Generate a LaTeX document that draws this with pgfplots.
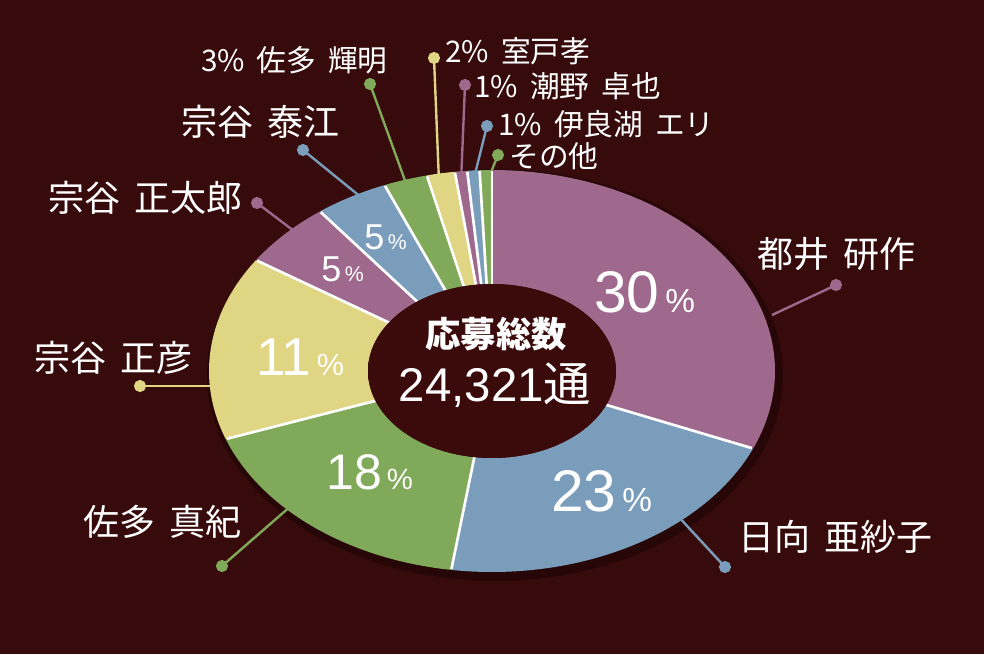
\documentclass[border=0pt]{standalone}
\usepackage{fontspec}
\setmainfont{Liberation Sans}
\newfontfamily\cjk{Noto Sans CJK JP}
\usepackage{pgfplots}
\usepackage{pgfplotstable}
\pgfplotsset{compat=1.18}

\definecolor{bg}{HTML}{370A0B}
\definecolor{cPur}{HTML}{9E698D}
\definecolor{cBlu}{HTML}{7B9DBC}
\definecolor{cGrn}{HTML}{80A95A}
\definecolor{cYel}{HTML}{DFD582}
\definecolor{holec}{HTML}{3B0A0A}
\definecolor{holeedge}{HTML}{200404}
\pgfdeclareradialshading{holeshade}{\pgfpointorigin}{color(0bp)=(holec); color(34bp)=(holec); color(50bp)=(holeedge)}

% share = size of the slice as drawn (% of the ring), pct = printed label
\pgfplotstableread{
share pct col
31.3 30 cPur
21.0 23 cBlu
17.2 18 cGrn
14.8 11 cYel
5.3  5  cPur
4.2  5  cBlu
2.5  3  cGrn
1.6  2  cYel
0.7  1  cPur
0.7  1  cBlu
0.7  0  cGrn
}\slices

% ring geometry in pixel units
\def\cx{492}\def\cy{371}\def\rx{283}\def\ry{201}
\def\cum{0}
\pgfplotsforeachungrouped \i in {0,...,10}{%
  \pgfplotstablegetelem{\i}{share}\of\slices
  \pgfmathsetmacro\tmpS{90-3.6*\cum}%
  \pgfmathsetmacro\cum{\cum+\pgfplotsretval}%
  \pgfmathsetmacro\tmpE{90-3.6*\cum}%
  \expandafter\let\csname s\i\endcsname\tmpS
  \expandafter\let\csname e\i\endcsname\tmpE
  \pgfplotstablegetelem{\i}{col}\of\slices
  \colorlet{slice\i}{\pgfplotsretval}%
}

\newcommand\pc[3]{\fontsize{#1}{#1}\selectfont#3\hspace{0.1em}\fontsize{#2}{#2}\selectfont\%}
\newcommand\gap{\hspace{0.4em}}
\tikzset{
  lbl/.style={inner sep=0, text=white, font=\fontsize{27pt}{28pt}\cjk},
  slbl/.style={inner sep=0, text=white, font=\fontsize{22.3pt}{23pt}\cjk},
  num/.style={inner sep=0, text=white, anchor=base west},
  lead/.style={line width=1.8pt, mark=*, mark indices={1}, mark size=3.6pt}
}

\begin{document}
\begin{tikzpicture}
\fill[bg] (0,0) rectangle (738pt,490.5pt);
\begin{axis}[
    at={(0,0)}, anchor=south west,
    scale only axis, width=738pt, height=490.5pt,
    xmin=0, xmax=984, ymin=0, ymax=654,
    y dir=reverse,
    hide axis, clip=false,
]
% soft shadow under ring
\addplot[draw=none, mark=none, fill=black, fill opacity=0.3, domain=0:360, samples=120]
  ({\cx+3+(\rx+5)*cos(x)},{\cy+4-(\ry+5)*sin(x)}) -- cycle;

% leader lines, dot first
\addplot[cPur, lead] coordinates {(836,285) (772,315)};
\addplot[cBlu, lead] coordinates {(725,567) (676,514)};
\addplot[cGrn, lead] coordinates {(222,566) (292,505)};
\addplot[cYel, lead] coordinates {(140,386) (216,386)};
\addplot[cPur, lead] coordinates {(257,203) (298,234)};
\addplot[cBlu, lead] coordinates {(303,150) (362,198)};
\addplot[cGrn, lead] coordinates {(370,84) (407,186)};
\addplot[cYel, lead] coordinates {(434,58) (439,182)};
\addplot[cPur, lead] coordinates {(465,85) (461,182)};
\addplot[cBlu, lead] coordinates {(487,126) (473,182)};
\addplot[cGrn, lead] coordinates {(498,155) (487,182)};

% slices
\pgfplotsinvokeforeach{0,...,10}{
  \addplot[draw=none, mark=none, fill=slice#1, domain=\csname e#1\endcsname:\csname s#1\endcsname, samples=90]
    ({\cx+\rx*cos(x)},{\cy-\ry*sin(x)}) -- (axis cs:\cx,\cy) -- cycle;
}
% white separators
\pgfplotsinvokeforeach{0,...,10}{
  \addplot[white, mark=none, line width=2pt, domain=0:0.995, samples=2]
    ({\cx+x*\rx*cos(\csname s#1\endcsname)},{\cy-x*\ry*sin(\csname s#1\endcsname)});
}
% hole
\addplot[draw=none, mark=none, fill=holec, shade, shading=holeshade, domain=0:360, samples=120]
  ({\cx+124*cos(x)},{\cy-87*sin(x)}) -- cycle;

% percentages in the ring
\node[num] at (axis cs:594,312) {\pc{44pt}{25pt}{30}};
\node[num] at (axis cs:551,511) {\pc{44pt}{25pt}{23}};
\node[num] at (axis cs:326,489) {\pc{37.5pt}{22pt}{18}};
\node[num] at (axis cs:256,375) {\pc{40pt}{23pt}{11}};
\node[num] at (axis cs:321,281) {\pc{27pt}{16pt}{5}};
\node[num] at (axis cs:364,249) {\pc{27pt}{16pt}{5}};

% centre
\node[text=white, inner sep=0, font=\fontsize{26.5pt}{27pt}\cjk\bfseries] at (axis cs:496,334) {応募総数};
\node[anchor=base, text=white, inner sep=0] at (axis cs:495,401) {\fontsize{35.5pt}{36pt}\selectfont 24,321{\cjk 通}};

% names
\node[lbl, anchor=west] at (axis cs:757,254) {都井\gap 研作};
\node[lbl, anchor=west] at (axis cs:738,537) {日向\gap 亜紗子};
\node[lbl, anchor=east] at (axis cs:242,522) {佐多\gap 真紀};
\node[lbl, anchor=east] at (axis cs:193,358) {宗谷\gap 正彦};
\node[lbl, anchor=east] at (axis cs:243,198) {宗谷\gap 正太郎};
\node[lbl, anchor=east] at (axis cs:340,122) {宗谷\gap 泰江};
\node[slbl, anchor=east] at (axis cs:388,60) {3\%\gap 佐多\gap 輝明};
\node[slbl, anchor=west] at (axis cs:445,51) {2\%\gap 室戸孝};
\node[slbl, anchor=west] at (axis cs:474,86) {1\%\gap 潮野\gap 卓也};
\node[slbl, anchor=west] at (axis cs:498,124) {1\%\gap 伊良湖\gap エリ};
\node[slbl, anchor=west] at (axis cs:509,156) {その他};
\end{axis}
\end{tikzpicture}
\end{document}
